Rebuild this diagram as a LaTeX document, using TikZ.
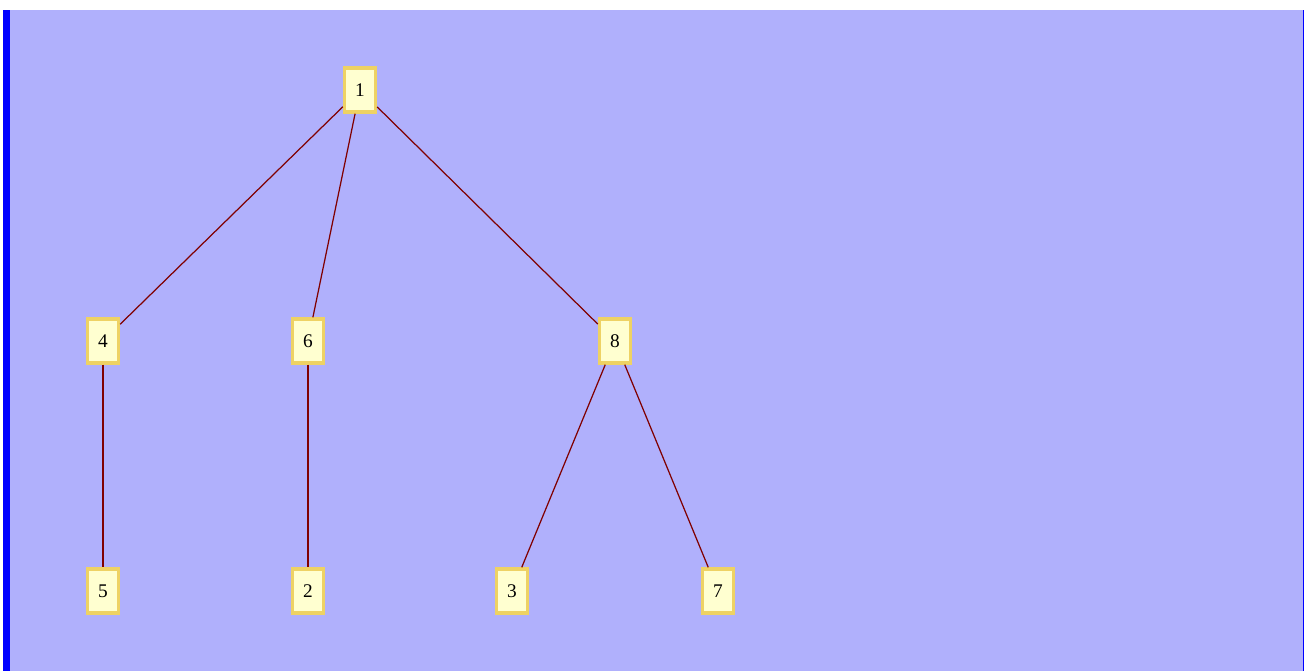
\documentclass[tikz,border=0pt]{standalone}
\usepackage{fontspec}
\setmainfont{Liberation Serif}
\usepackage{tikz}
\usetikzlibrary{positioning,calc}
\definecolor{nen}{RGB}{176,176,252}
\definecolor{vien}{RGB}{238,210,100}
\definecolor{hop}{RGB}{255,255,208}
\definecolor{canh}{RGB}{128,0,0}

\begin{document}
\begin{tikzpicture}
\tikzstyle{dinh}=[draw=vien,fill=hop,line width=1.9pt,minimum width=0.62cm,minimum height=0.88cm,inner sep=2pt,font=\fontsize{11}{13}\selectfont]
\tikzstyle{noi}=[draw=canh,line width=0.7pt]

    \useasboundingbox (0,0) rectangle (26.08,-13.42);
    \fill[white] (0,0) rectangle (26.08,-13.42);
    \fill[nen] (0.06,-0.2) rectangle (26.08,-13.42);
    \fill[blue] (0.06,-0.2) rectangle (0.2,-13.42);
    \fill[blue] (26.06,-0.2) rectangle (26.08,-13.42);

   \path (7.20,-1.80) node[dinh] (n1) {1}
   
    (2.06,-6.82) node[dinh] (n4) {4}     (6.16,-6.82) node[dinh] (n6) {6}     (12.30,-6.82) node[dinh] (n8) {8}
    
    (2.06,-11.82) node[dinh] (n5) {5}    (6.16,-11.82) node[dinh] (n2) {2}
    (10.24,-11.82) node[dinh] (n3) {3}   (14.36,-11.82) node[dinh] (n7) {7};
    
    \draw[noi] (n1)--(n4);
    \draw[noi] (n1)--(n6);
    \draw[noi] (n1)--(n8);
    \draw[noi] (n4)--(n5);
    \draw[noi] (n6)--(n2);
    \draw[noi] (n8)--(n3);
    \draw[noi] (n8)--(n7);
\end{tikzpicture}
\end{document}
